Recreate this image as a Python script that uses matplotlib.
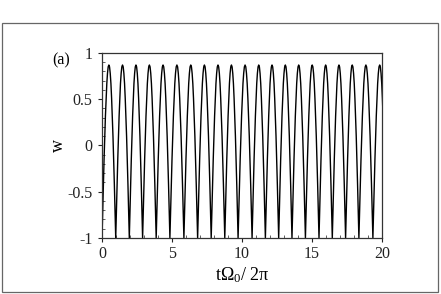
import numpy as np
import matplotlib
matplotlib.use('Agg')
import matplotlib.pyplot as plt
from matplotlib.patches import Rectangle

# times of the sharp minima (w = -1)
trough_t = [0.0, 0.98, 1.95, 2.90, 3.87, 4.85, 5.85, 6.83, 7.80, 8.77, 9.72,
            10.72, 11.67, 12.62, 13.57, 14.53, 15.50, 16.45, 17.40, 18.35, 19.35, 20.32]

# shape of one oscillation between two minima (phase 0..1 -> w)
phase = [0.0, 0.05, 0.10, 0.15, 0.20, 0.25, 0.30, 0.35, 0.40, 0.45, 0.50,
         0.55, 0.60, 0.65, 0.70, 0.75, 0.80, 0.85, 0.90, 0.95, 1.0]
w_shape = [-1.0, -0.71, -0.42, -0.15, 0.10, 0.32, 0.51, 0.67, 0.78, 0.85, 0.87,
           0.85, 0.78, 0.67, 0.51, 0.32, 0.10, -0.15, -0.42, -0.71, -1.0]

xticks = [0, 5, 10, 15, 20]
yticks = [-1, -0.5, 0, 0.5, 1]
yticklabels = ['-1', '-0.5', '0', '0.5', '1']

plt.rcParams['font.family'] = ['Liberation Serif', 'DejaVu Serif']
plt.rcParams['mathtext.fontset'] = 'custom'
plt.rcParams['mathtext.rm'] = 'Liberation Serif'

# put the single period between each pair of minima
t_all = []
w_all = []
for i in range(len(trough_t) - 1):
    t0, t1 = trough_t[i], trough_t[i + 1]
    for p, w in zip(phase, w_shape):
        t_all.append(t0 + p * (t1 - t0))
        w_all.append(w)

fig = plt.figure(figsize=(4.41, 2.94), dpi=100)
ax = fig.add_axes([0.2313, 0.1905, 0.6349, 0.6293])

ax.plot(t_all, w_all, color='black', lw=1.0)

ax.set_xlim(0, 20)
ax.set_ylim(-1, 1)
ax.set_xticks(xticks)
ax.set_xticks(np.arange(0, 21, 1), minor=True)
ax.set_yticks(yticks)
ax.set_yticklabels(yticklabels)
ax.set_yticks(np.arange(-1, 1.01, 0.1), minor=True)

ax.tick_params(which='major', direction='out', length=3, width=0.8,
               labelsize=11.5, colors='#222222')
ax.tick_params(axis='y', which='major', pad=4)
ax.tick_params(axis='x', which='major', pad=3)
ax.tick_params(which='minor', direction='in', length=2, width=0.6, colors='#444444')
for s in ax.spines.values():
    s.set_linewidth(0.9)
    s.set_color('#333333')

ax.set_xlabel('t\u03a9$\\mathrm{_0}$/ 2\u03c0', fontsize=13, labelpad=2)
ax.set_ylabel('w', fontsize=13)
ax.yaxis.set_label_coords(-0.125, 0.5)
fig.text(0.118, 0.795, '(a)', fontsize=11.5, ha='left', va='center')

# outer frame around the panel
fig.patches.append(Rectangle((0.0045, 0.0068), 0.9887, 0.915, transform=fig.transFigure,
                             fill=False, edgecolor='#666666', lw=0.9))

fig.savefig('out.png', dpi=100)
